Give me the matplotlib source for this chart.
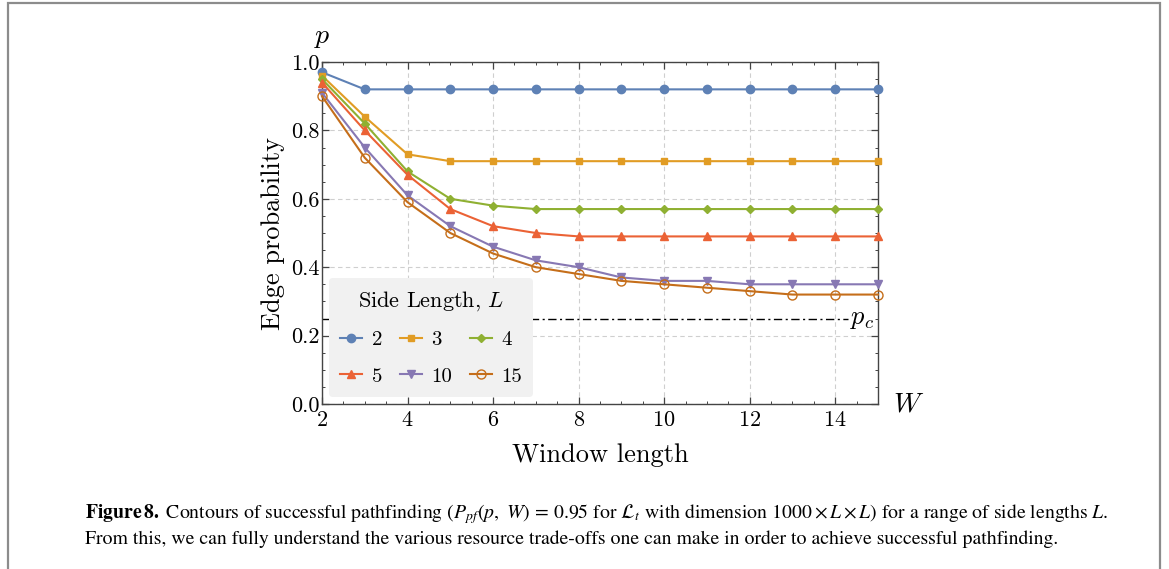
import matplotlib
matplotlib.use("Agg")
import matplotlib.pyplot as plt
from matplotlib.ticker import MultipleLocator, FormatStrFormatter
from matplotlib.patches import Rectangle

plt.rcParams['font.family'] = 'serif'
plt.rcParams['font.serif'] = ['cmr10', 'DejaVu Serif']
plt.rcParams['mathtext.fontset'] = 'cm'
plt.rcParams['axes.formatter.use_mathtext'] = True

# ---- data ----
W = [2, 3, 4, 5, 6, 7, 8, 9, 10, 11, 12, 13, 14, 15]
side_lengths = ['2', '3', '4', '5', '10', '15']
p_L2 = [0.97, 0.92, 0.92, 0.92, 0.92, 0.92, 0.92, 0.92, 0.92, 0.92, 0.92, 0.92, 0.92, 0.92]
p_L3 = [0.96, 0.84, 0.73, 0.71, 0.71, 0.71, 0.71, 0.71, 0.71, 0.71, 0.71, 0.71, 0.71, 0.71]
p_L4 = [0.95, 0.82, 0.68, 0.60, 0.58, 0.57, 0.57, 0.57, 0.57, 0.57, 0.57, 0.57, 0.57, 0.57]
p_L5 = [0.94, 0.80, 0.67, 0.57, 0.52, 0.50, 0.49, 0.49, 0.49, 0.49, 0.49, 0.49, 0.49, 0.49]
p_L10 = [0.91, 0.75, 0.61, 0.52, 0.46, 0.42, 0.40, 0.37, 0.36, 0.36, 0.35, 0.35, 0.35, 0.35]
p_L15 = [0.90, 0.72, 0.59, 0.50, 0.44, 0.40, 0.38, 0.36, 0.35, 0.34, 0.33, 0.32, 0.32, 0.32]
p_c = 0.2488
pc_W = [2, 14.3]

series = [p_L2, p_L3, p_L4, p_L5, p_L10, p_L15]
colors = ['#5E81B5', '#E19C24', '#8FB032', '#EB6235', '#8778B3', '#C56E1A']
markers = ['o', 's', 'D', '^', 'v', 'o']
msizes = [6, 4.5, 4.2, 5.5, 5.5, 6.5]

fig = plt.figure(figsize=(11.69, 5.69), dpi=100)
ax = fig.add_axes([322/1169, 1-404/569, (878-322)/1169, (404-62)/569])

ax.plot(pc_W, [p_c, p_c], color='black', lw=1.0, linestyle=(0, (6, 2.5, 1.5, 2.5)), zorder=2)
ax.text(14.35, p_c, r'$p_c$', fontsize=19, va='center', ha='left')

handles = []
for vals, c, m, ms, lab in zip(series, colors, markers, msizes, side_lengths):
    if lab == '15':
        h, = ax.plot(W, vals, color=c, marker=m, ms=ms, lw=1.5, mfc='none', mec=c, mew=1.0,
                     label=lab, zorder=3, clip_on=False)
    else:
        h, = ax.plot(W, vals, color=c, marker=m, ms=ms, lw=1.5, label=lab, zorder=3, clip_on=False)
    handles.append(h)

ax.set_xlim(2, 15)
ax.set_ylim(0, 1.0)
ax.xaxis.set_major_locator(MultipleLocator(2))
ax.xaxis.set_minor_locator(MultipleLocator(0.5))
ax.yaxis.set_major_locator(MultipleLocator(0.2))
ax.yaxis.set_minor_locator(MultipleLocator(0.05))
ax.yaxis.set_major_formatter(FormatStrFormatter('%.1f'))
ax.tick_params(which='both', direction='in', top=True, right=True, colors='#444444',
               labelcolor='black', labelsize=16)
ax.tick_params(which='major', length=5, width=0.9)
ax.tick_params(which='minor', length=2.5, width=0.7)
ax.tick_params(axis='x', pad=5)
ax.tick_params(axis='y', pad=2)
for s in ax.spines.values():
    s.set_color('#444444')
    s.set_linewidth(1.0)
ax.grid(True, which='major', color='#cfcfcf', linestyle=(0, (4, 3)), lw=0.8)
ax.set_axisbelow(True)

ax.set_xlabel('Window length', fontsize=19, labelpad=9)
ax.set_ylabel('Edge probability', fontsize=19, labelpad=4)
ax.text(2.0, 1.035, r'$p$', fontsize=20, ha='center', va='bottom')
ax.text(15.35, 0.0, r'$W$', fontsize=20, ha='left', va='center')

# row-wise legend order: 2 3 4 / 5 10 15
order = [0, 3, 1, 4, 2, 5]
leg = ax.legend([handles[i] for i in order], [side_lengths[i] for i in order],
                ncol=3, title=r'Side Length, $L$', fontsize=15, title_fontsize=16,
                loc='lower left', bbox_to_anchor=(7/556, 7/342), borderaxespad=0,
                frameon=True, fancybox=True,
                facecolor='#f1f1f1', edgecolor='none', framealpha=1.0, handlelength=1.05,
                handletextpad=0.45, columnspacing=0.85, labelspacing=0.85, borderpad=0.55)
leg.set_zorder(5)

# figure frame
fig.add_artist(Rectangle((8/1169, -0.05), (1160-8)/1169, 1.05 - 3/569, transform=fig.transFigure,
                         fill=False, edgecolor='#8c8c8c', lw=1.6))

cap1 = (r"$\mathbf{Figure\,8.}$ Contours of successful pathfinding ($P_{pf}(p,\ W)\, =\, 0.95$ for "
        r"$\mathcal{L}_t$ with dimension $1000\times L\times L$) for a range of side lengths $L$.")
cap2 = "From this, we can fully understand the various resource trade-offs one can make in order to achieve successful pathfinding."
fig.text(85/1169, 1-514/569, cap1, fontsize=14.2, family='STIXGeneral', math_fontfamily='stix',
         va='center', ha='left')
fig.text(85/1169, 1-539/569, cap2, fontsize=14.2, family='STIXGeneral', math_fontfamily='stix',
         va='center', ha='left')

fig.savefig('out.png', dpi=100)
